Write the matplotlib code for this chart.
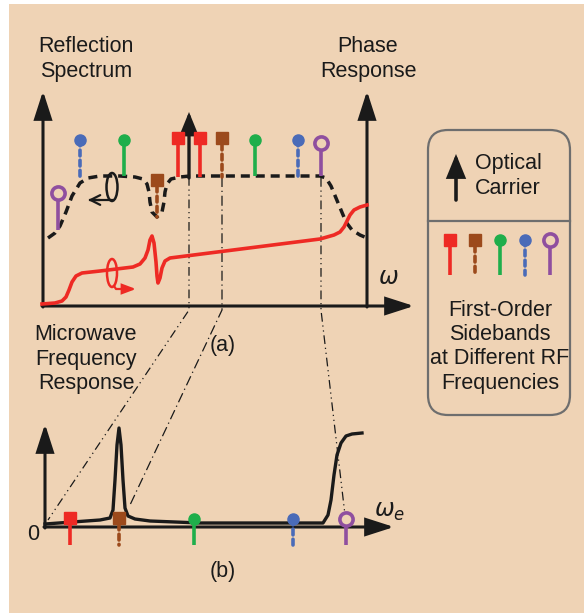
import matplotlib
matplotlib.use("Agg")
import matplotlib.pyplot as plt
from matplotlib.patches import Rectangle, FancyBboxPatch, Ellipse

plt.rcParams['font.family'] = ['Liberation Sans', 'DejaVu Sans']

BG = '#EFD3B5'
RED = '#EE2A24'
BROWN = '#9C4A1C'
GREEN = '#1FAE4B'
BLUE = '#4A6BB8'
PURPLE = '#8F4F9F'
INK = '#1A1A1A'
FS = 15.5

# ---------------- data ----------------
# sideband kinds: red, brown, green, blue, purple
kind_colors = [RED, BROWN, GREEN, BLUE, PURPLE]
kind_markers = ['s', 's', 'o', 'o', 'o']
kind_dashed = [False, True, False, True, False]
kind_open = [False, False, False, False, True]

# panel (a): reflection spectrum (dashed) and phase response (red)
refl_x = [48, 55, 60, 66, 72, 80, 88, 100, 120, 135, 143, 147, 149, 150, 152, 157, 162, 164, 165, 167, 171, 180,
          190, 250, 320, 326, 331, 336, 341, 346, 352, 360, 367]
refl_y = [238, 233, 226, 212, 196, 183, 178, 176, 176, 177, 179, 184, 192, 202, 212, 217, 212, 202, 192, 184, 179, 177,
          176, 176, 176, 178, 186, 198, 210, 222, 230, 235, 238]
phase_x = [42, 55, 62, 66, 69, 72, 76, 82, 100, 133, 140, 145, 148, 150, 152, 154, 156, 157, 158, 160,
           162, 165, 170, 320, 334, 340, 344, 347, 350, 354, 360, 367]
phase_y = [304, 303, 301, 297, 290, 282, 276, 273, 271, 267, 264, 258, 250, 240, 236, 243, 262, 276, 283,
           278, 268, 261, 258, 239, 235, 232, 227, 221, 215, 210, 207, 205]

# sidebands in panel (a): position, top, bottom, kind
sb_a_x = [58, 80, 124, 157, 178, 200, 222, 255, 298, 321]
sb_a_top = [193, 140, 140, 176, 134, 134, 134, 140, 140, 143]
sb_a_bot = [230, 180, 176, 217, 177, 177, 177, 176, 176, 176]
sb_a_kind = [4, 3, 2, 1, 0, 0, 1, 2, 3, 4]

# panel (b): microwave frequency response
mw_x = [45, 100, 110, 113, 115, 117, 119, 121, 123, 125, 128, 135, 150, 200, 323, 328, 331, 334, 337, 341,
        346, 352, 362]
mw_y = [524, 520, 518, 510, 480, 445, 428, 445, 480, 508, 516, 519, 521, 523, 523, 515, 500, 475, 455, 443,
        436, 434, 433]
sb_b_x = [70, 119, 194, 293, 346]
sb_b_kind = [0, 1, 2, 3, 4]

# ---------------- figure ----------------
fig = plt.figure(figsize=(5.84, 6.13), dpi=100)
fig.patch.set_facecolor('white')
ax = fig.add_axes([0, 0, 1, 1])
ax.set_xlim(0, 584)
ax.set_ylim(613, 0)
ax.axis('off')
ax.add_patch(Rectangle((9, 4), 584, 613, facecolor=BG, edgecolor='none', zorder=0))


def arrow(x0, y0, x1, y1, lw=2.2, hl=1.4, hw=0.45, ms=12, color=INK, z=3, style='-|>'):
    ax.annotate('', xy=(x1, y1), xytext=(x0, y0),
                arrowprops=dict(arrowstyle='%s,head_length=%g,head_width=%g' % (style, hl, hw),
                                lw=lw, color=color, mutation_scale=ms, shrinkA=0, shrinkB=0,
                                joinstyle='miter'), zorder=z)


def sideband(x, top, bot, k, z=5):
    c = kind_colors[k]
    ls = (0, (1.6, 1.2)) if kind_dashed[k] else '-'
    ax.plot([x, x], [top, bot], color=c, lw=2.6, ls=ls, solid_capstyle='butt',
            dash_capstyle='round', zorder=z)
    if kind_markers[k] == 's':
        ax.plot([x], [top + 4], marker='s', ms=8.5, color=c, mec=c, zorder=z + 1)
    elif kind_open[k]:
        ax.plot([x], [top], marker='o', ms=9.5, mfc=BG, mec=c, mew=2.6, zorder=z + 1)
    else:
        ax.plot([x], [top], marker='o', ms=8, color=c, zorder=z + 1)


# ---- panel (a) axes ----
arrow(43, 307, 43, 91)
arrow(42, 306, 414, 306)
arrow(367, 307, 367, 91)
ax.text(86, 47, 'Reflection', ha='center', va='center', fontsize=FS, color=INK)
ax.text(86, 72, 'Spectrum', ha='center', va='center', fontsize=FS, color=INK)
ax.text(368, 47, 'Phase', ha='center', va='center', fontsize=FS, color=INK)
ax.text(368, 72, 'Response', ha='center', va='center', fontsize=FS, color=INK)
ax.text(388, 278, r'$\omega$', ha='center', va='center', fontsize=17, color=INK)

# guide lines (dash-dot) from panel (a) down to panel (b)
ddot = (0, (7, 3, 1, 3, 1, 3))
ddash = (0, (8, 3, 1, 3))
ax.plot([189, 189, 48], [177, 310, 520], color=INK, lw=0.9, ls=ddot, zorder=2)
ax.plot([222, 222, 130], [177, 310, 505], color=INK, lw=0.9, ls=ddash, zorder=2)
ax.plot([321, 321, 345], [178, 310, 515], color=INK, lw=0.9, ls=ddot, zorder=2)

# curves
ax.plot(refl_x, refl_y, color=INK, lw=2.5, ls=(0, (2.6, 1.7)), zorder=3)
ax.plot(phase_x, phase_y, color=RED, lw=2.6, zorder=3, solid_joinstyle='round')

# ellipse indicators
ax.add_patch(Ellipse((112, 187), 11, 28, fill=False, ec=INK, lw=1.8, zorder=4))
ax.plot([112, 90], [200, 200], color=INK, lw=1.6, zorder=4)
arrow(100, 200, 88, 200, lw=1.6, hl=0.7, hw=0.35, ms=10, style='->')
ax.add_patch(Ellipse((112, 273), 10, 28, fill=False, ec=RED, lw=1.8, zorder=4))
ax.plot([114, 116, 130], [286, 289, 289], color=RED, lw=1.6, zorder=4)
arrow(124, 289, 136, 289, lw=1.6, hl=0.8, hw=0.3, ms=10, color=RED)

# optical carrier
arrow(189, 178, 189, 112, lw=2.4, hl=1.1, hw=0.45)

for x, t, b, k in zip(sb_a_x, sb_a_top, sb_a_bot, sb_a_kind):
    sideband(x, t, b, k)

ax.text(223, 346, '(a)', ha='center', va='center', fontsize=FS, color=INK)
ax.text(86, 335, 'Microwave', ha='center', va='center', fontsize=FS, color=INK)
ax.text(86, 360, 'Frequency', ha='center', va='center', fontsize=FS, color=INK)
ax.text(86, 384, 'Response', ha='center', va='center', fontsize=FS, color=INK)

# ---- panel (b) ----
arrow(45, 528, 45, 424)
arrow(44, 527, 394, 527)
ax.text(33, 535, '0', ha='center', va='center', fontsize=FS, color=INK)
ax.text(390, 512, r'$\omega_e$', ha='center', va='center', fontsize=17, color=INK)
ax.plot(mw_x, mw_y, color=INK, lw=2.4, zorder=3, solid_joinstyle='round')
for x, k in zip(sb_b_x, sb_b_kind):
    top = 519 if kind_markers[k] == 'o' else 514
    sideband(x, top, 545, k)
ax.text(223, 572, '(b)', ha='center', va='center', fontsize=FS, color=INK)

# ---- legend box ----
ax.add_patch(FancyBboxPatch((428, 130), 142, 285, boxstyle='round,pad=0,rounding_size=20',
                            fc='none', ec='#6E6E6E', lw=1.6, zorder=3))
ax.plot([428, 570], [221, 221], color='#6E6E6E', lw=1.6, zorder=3)
arrow(456, 200, 456, 154, lw=2.6, hl=1.1, hw=0.45)
ax.text(475, 163, 'Optical', ha='left', va='center', fontsize=FS, color=INK)
ax.text(475, 189, 'Carrier', ha='left', va='center', fontsize=FS, color=INK)
for i, k in enumerate(range(5)):
    top = 240 if kind_markers[k] == 'o' else 236
    sideband(450 + 25 * i, top, 275, k)
for yy, s in zip([310, 335, 359, 383], ['First-Order', 'Sidebands', 'at Different RF', 'Frequencies']):
    ax.text(500, yy, s, ha='center', va='center', fontsize=FS, color=INK)

fig.savefig('out.png', dpi=100, facecolor='white')
